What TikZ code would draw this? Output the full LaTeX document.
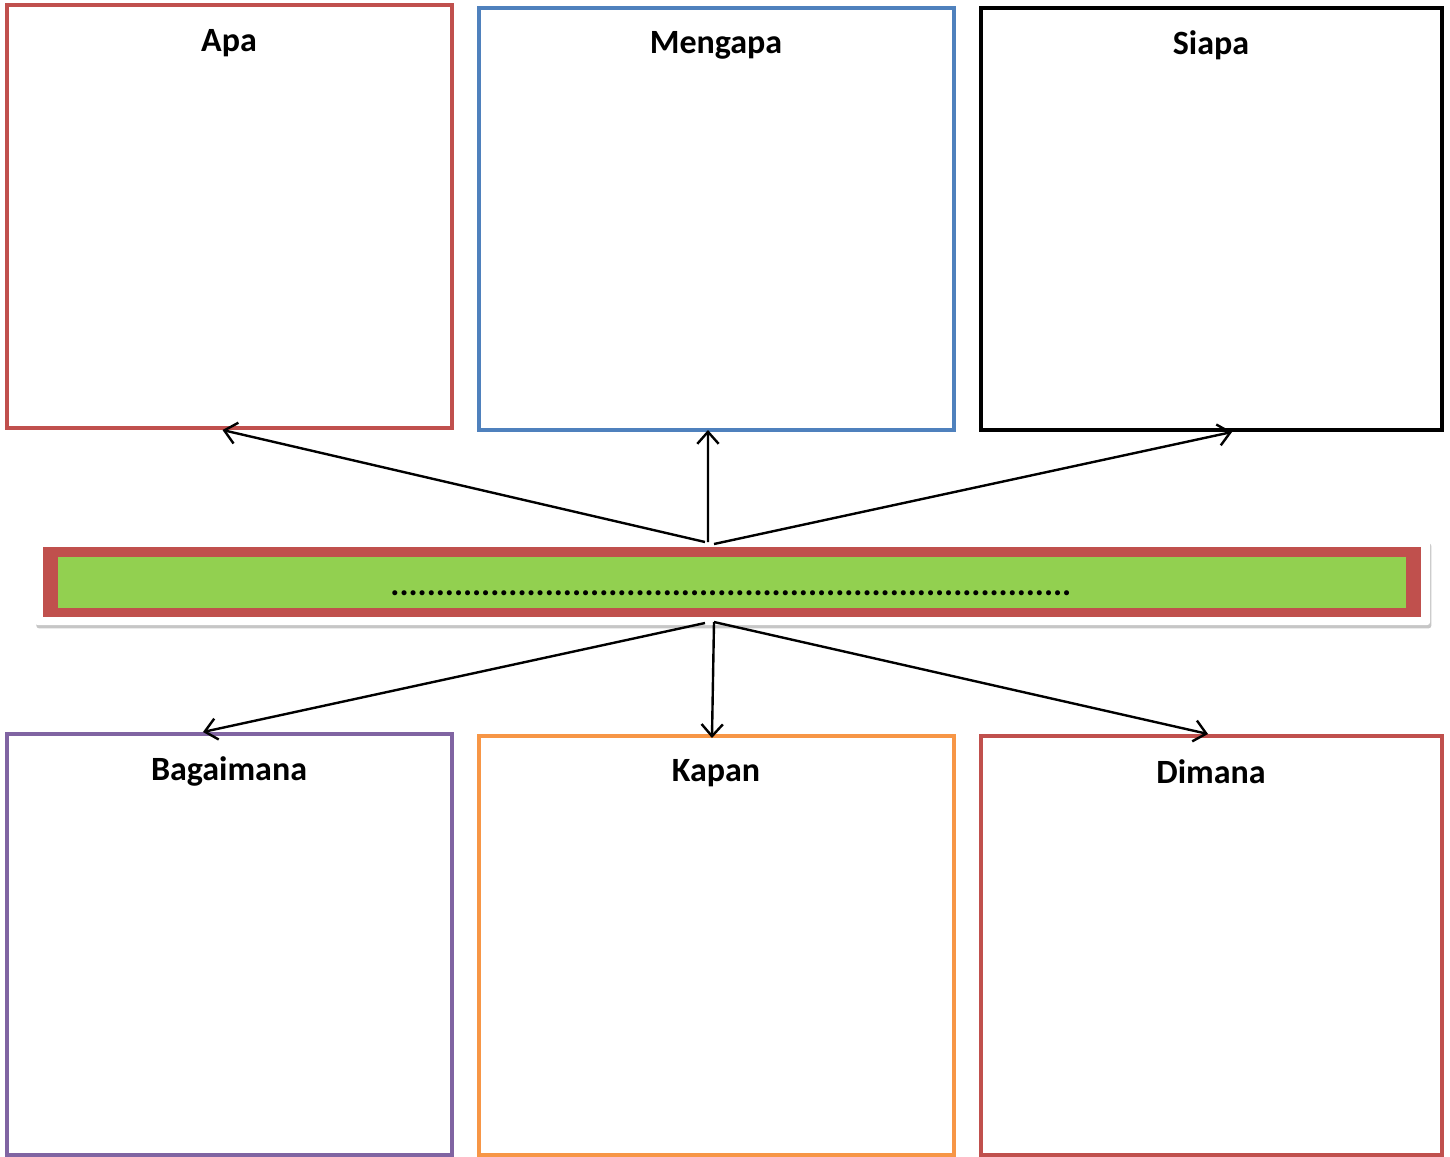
\documentclass[tikz,border=0pt]{standalone}
\usepackage{fontspec}
\setmainfont{Carlito}
\usetikzlibrary{arrows.meta,shadows}

\definecolor{boxred}{HTML}{C0504D}
\definecolor{boxblue}{HTML}{4F81BD}
\definecolor{boxpurple}{HTML}{8064A2}
\definecolor{boxorange}{HTML}{F79646}
\definecolor{bargreen}{HTML}{92D050}

\tikzset{
  wbox/.style={draw, line width=3pt, inner sep=0pt},
  wtitle/.style={font=\bfseries\fontsize{25.5}{30}\selectfont, inner sep=0pt},
  warrow/.style={-{Straight Barb[length=9pt,width=16pt]}, line width=1.8pt}
}

\begin{document}
\begin{tikzpicture}[x=0.75pt,y=0.75pt,yscale=-1,xscale=1]
\useasboundingbox (0,0) rectangle (1450,1157);

%Shape: Rectangle top row
\node[wbox, draw=boxred, minimum width=333.75pt, minimum height=317.25pt] (apa) at (229.5,216.5) {};
\node[wbox, draw=boxblue, minimum width=356.25pt, minimum height=316.5pt] (mengapa) at (716.5,219) {};
\node[wbox, draw=black, minimum width=345.75pt, minimum height=316.5pt] (siapa) at (1211.5,219) {};
%Shape: Rectangle bottom row
\node[wbox, draw=boxpurple, minimum width=333.75pt, minimum height=315.75pt] (bagaimana) at (229.5,944.5) {};
\node[wbox, draw=boxorange, minimum width=356.25pt, minimum height=314.25pt] (kapan) at (716.5,945.5) {};
\node[wbox, draw=boxred, minimum width=345.75pt, minimum height=314.25pt] (dimana) at (1211.5,945.5) {};

%Shape: Bar
\node[fill=white, rounded corners=2pt, minimum width=1046.25pt, minimum height=63.75pt,
      drop shadow={shadow xshift=1pt, shadow yshift=-2.5pt, opacity=0.45}] (panel) at (732.5,582.5) {};
\node[fill=boxred, inner sep=0pt, minimum width=1033.5pt, minimum height=52.5pt] (bar) at (732,582) {};
\node[fill=bargreen, inner sep=0pt, minimum width=1011pt, minimum height=38.25pt] (barin) at (732,582.5) {};

% Text Node
\node[wtitle] (tapa) at (229,43) {Apa};
\node[wtitle] (tmengapa) at (716,45) {Mengapa};
\node[wtitle] (tsiapa) at (1211,45) {Siapa};
\node[wtitle] (tbagaimana) at (229,771) {Bagaimana};
\node[wtitle] (tkapan) at (716,773) {Kapan};
\node[wtitle] (tdimana) at (1211,772) {Dimana};
\node[wtitle, anchor=base] (dots) at (731,595) {...........................................................................};

%Straight Lines
\coordinate (hubtop) at (708,542);
\coordinate (hubbot) at (710,622);
\draw[warrow] ([xshift=-2.25pt]hubtop) -- ([xshift=-5.25pt]apa.south);
\draw[warrow] (hubtop) -- ([xshift=-6.4pt,yshift=-1.5pt]mengapa.south);
\draw[warrow] ([xshift=4.5pt,yshift=1.5pt]hubtop) -- ([xshift=15.4pt]siapa.south);
\draw[warrow] ([xshift=-3.75pt,yshift=0.75pt]hubbot) -- ([xshift=-19.9pt]bagaimana.north);
\draw[warrow] ([xshift=3pt]hubbot) -- ([xshift=-3.4pt,yshift=3pt]kapan.north);
\draw[warrow] ([xshift=3pt]hubbot) -- ([xshift=-2.6pt]dimana.north);

\end{tikzpicture}
\end{document}
